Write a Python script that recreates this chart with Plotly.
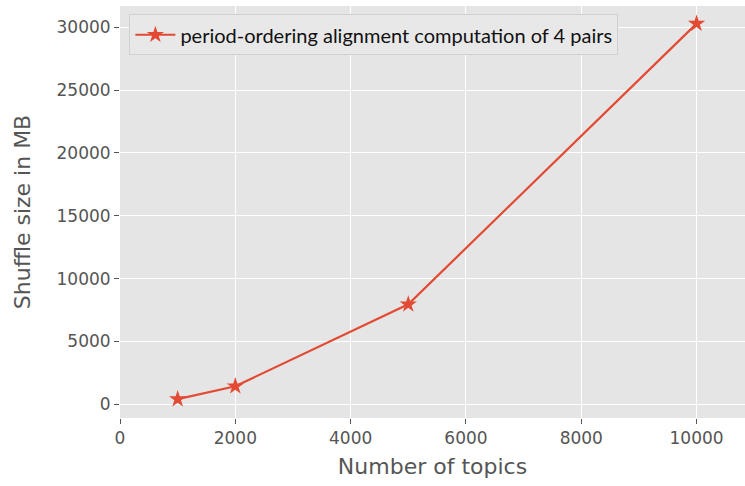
import plotly.graph_objects as go

topics = [1000, 2000, 5000, 10000]
shuffle_mb = [400, 1430, 7950, 30300]
series_name = "period-ordering alignment computation of 4 pairs"
x_ticks = [0, 2000, 4000, 6000, 8000, 10000]
y_ticks = [0, 5000, 10000, 15000, 20000, 25000, 30000]

fig = go.Figure()
fig.add_trace(go.Scatter(
    x=topics, y=shuffle_mb, mode="lines+markers", name=series_name,
    line=dict(color="#E24A33", width=2.2),
    marker=dict(symbol="star", size=13, color="#E24A33"),
))

axis_common = dict(
    showgrid=True, gridcolor="white", gridwidth=1.2, zeroline=False,
    ticks="outside", ticklen=5, tickwidth=1, tickcolor="#555555",
    tickfont=dict(family="DejaVu Sans", size=17, color="#555555"),
    showline=False, automargin=False,
)

fig.update_layout(
    width=745, height=486,
    margin=dict(l=120, r=0, t=6, b=68),
    paper_bgcolor="white", plot_bgcolor="#E5E5E5",
    showlegend=True,
    legend=dict(
        x=0.015, y=0.98, xanchor="left", yanchor="top",
        bgcolor="#E8E8E8", bordercolor="#D0D0D0", borderwidth=1,
        font=dict(family="Lato", size=20, color="#111111"),
        itemwidth=40,
    ),
    xaxis=dict(
        range=[0, 10840], tickvals=x_ticks, ticktext=[str(v) for v in x_ticks],
        title=dict(text="Number of topics", font=dict(family="DejaVu Sans", size=22, color="#555555"), standoff=11),
        **axis_common,
    ),
    yaxis=dict(
        range=[-1100, 31700], tickvals=y_ticks, ticktext=[str(v) for v in y_ticks],
        title=dict(text="Shuffle size in MB", font=dict(family="DejaVu Sans", size=22, color="#555555"), standoff=19),
        **axis_common,
    ),
)

fig.write_html("out.html", config={"displayModeBar": False},
               post_script="document.body.style.margin='0';")
